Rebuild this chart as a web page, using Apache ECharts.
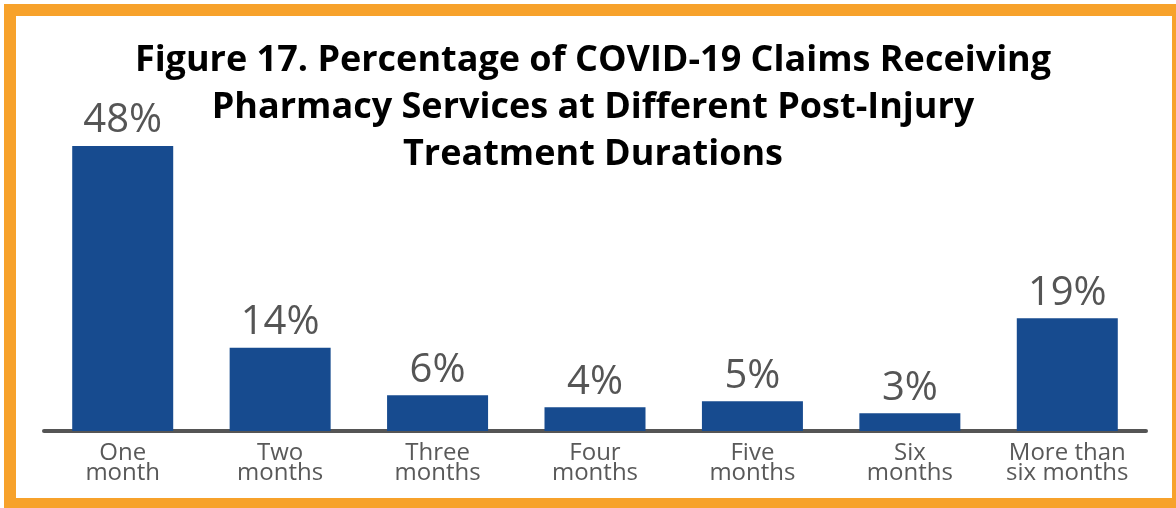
<!DOCTYPE html>
<html>
<head>
<meta charset="utf-8">
<script src="https://cdn.jsdelivr.net/npm/echarts@6/dist/echarts.min.js"></script>
<style>
  html, body { margin: 0; padding: 0; background: #ffffff; overflow: hidden; width: 1176px; height: 508px; }
  #frame { position: absolute; left: 4px; top: 4px; width: 1180px; height: 506px; box-sizing: border-box; border: 12px solid #F7A22B; background: #ffffff; }
  #chart { position: absolute; left: 0; top: 0; width: 1176px; height: 508px; }
</style>
</head>
<body>
<div id="frame"></div>
<div id="chart"></div>
<script>
const categories = ['One\nmonth', 'Two\nmonths', 'Three\nmonths', 'Four\nmonths', 'Five\nmonths', 'Six\nmonths', 'More than\nsix months'];
const values = [48, 14, 6, 4, 5, 3, 19];
const titleText = 'Figure 17. Percentage of COVID-19 Claims Receiving\nPharmacy Services at Different Post-Injury\nTreatment Durations';

const chart = echarts.init(document.getElementById('chart'), null, { renderer: 'canvas' });
chart.setOption({
  backgroundColor: 'transparent',
  animation: false,
  title: {
    text: titleText,
    left: 588,
    textAlign: 'center',
    top: 32,
    textStyle: {
      fontFamily: 'Open Sans',
      fontWeight: 'bold',
      fontSize: 36,
      lineHeight: 47,
      color: '#000000'
    }
  },
  grid: { left: 44, right: 30, top: 134, bottom: 77, containLabel: false },
  xAxis: {
    type: 'category',
    data: categories,
    axisLine: { show: true, lineStyle: { color: '#555555', width: 4 } },
    axisTick: { show: false },
    axisLabel: {
      interval: 0,
      margin: 12,
      fontFamily: 'Open Sans',
      fontSize: 24,
      lineHeight: 20,
      color: '#595959'
    }
  },
  yAxis: {
    type: 'value',
    min: 0,
    max: 50,
    show: false,
    splitLine: { show: false }
  },
  series: [{
    type: 'bar',
    data: values,
    barWidth: 101,
    itemStyle: { color: '#174B8F' },
    label: {
      show: true,
      position: 'top',
      distance: 5,
      formatter: '{c}%',
      fontFamily: 'Open Sans',
      fontSize: 40,
      color: '#555555'
    }
  }]
});
</script>
</body>
</html>
